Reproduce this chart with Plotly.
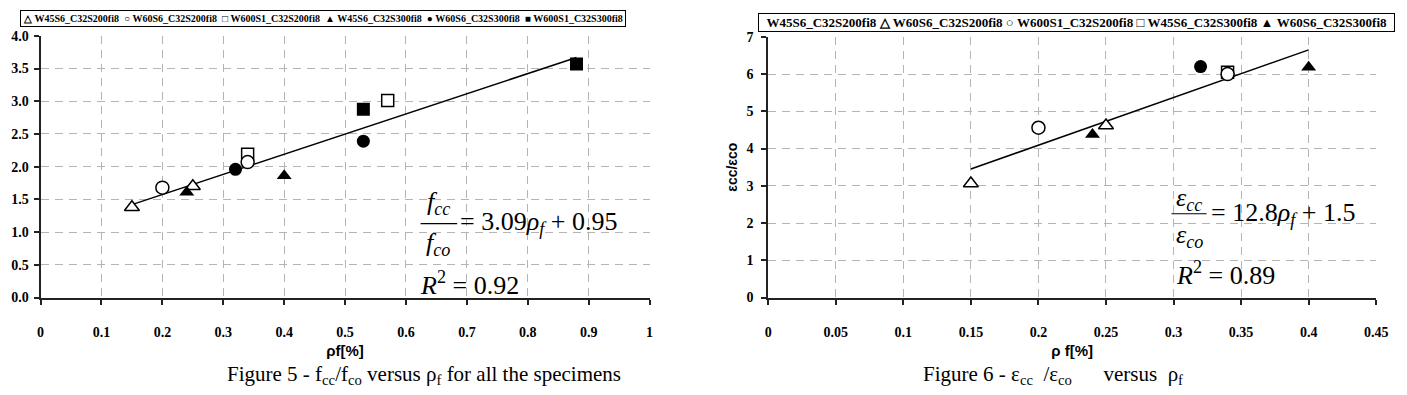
import plotly.graph_objects as go

# ---------------- data ----------------
series_names = ["W45S6_C32S200fi8", "W60S6_C32S200fi8", "W600S1_C32S200fi8",
                "W45S6_C32S300fi8", "W60S6_C32S300fi8", "W600S1_C32S300fi8"]
legend_glyphs = ["△", "○", "□", "▲", "●", "■"]

# Figure 5 : fcc/fco vs rho_f
f5_w45s6_200_x = [0.15, 0.25]
f5_w45s6_200_y = [1.38, 1.70]
f5_w60s6_200_x = [0.20, 0.34]
f5_w60s6_200_y = [1.68, 2.07]
f5_w600s1_200_x = [0.34, 0.57]
f5_w600s1_200_y = [2.19, 3.01]
f5_w45s6_300_x = [0.24, 0.40]
f5_w45s6_300_y = [1.61, 1.86]
f5_w60s6_300_x = [0.32, 0.53]
f5_w60s6_300_y = [1.96, 2.39]
f5_w600s1_300_x = [0.53, 0.88]
f5_w600s1_300_y = [2.88, 3.57]
f5_trend_x = [0.15, 0.88]
f5_trend_y = [1.42, 3.67]

# Figure 6 : ecc/eco vs rho_f
f6_w45s6_200_x = [0.15, 0.25]
f6_w45s6_200_y = [3.06, 4.62]
f6_w60s6_200_x = [0.20, 0.34]
f6_w60s6_200_y = [4.56, 6.00]
f6_w600s1_200_x = [0.34]
f6_w600s1_200_y = [6.05]
f6_w45s6_300_x = [0.24, 0.40]
f6_w45s6_300_y = [4.38, 6.18]
f6_w60s6_300_x = [0.32]
f6_w60s6_300_y = [6.20]
f6_trend_x = [0.15, 0.40]
f6_trend_y = [3.45, 6.65]

f5_xticks = [0, 0.1, 0.2, 0.3, 0.4, 0.5, 0.6, 0.7, 0.8, 0.9, 1]
f5_yticks = [0, 0.5, 1, 1.5, 2, 2.5, 3, 3.5, 4]
f6_xticks = [0, 0.05, 0.1, 0.15, 0.2, 0.25, 0.3, 0.35, 0.4, 0.45]
f6_yticks = [0, 1, 2, 3, 4, 5, 6, 7]

# ---------------- layout helpers ----------------
W, H = 1407, 395
def px(v):
    return v / W
def py(v):
    return 1 - v / H

SERIF = "Liberation Serif, Times New Roman, serif"
SANS = "Liberation Sans, Arial, sans-serif"

open_style = dict(color="white", line=dict(color="black", width=1.5))
fill_style = dict(color="black", line=dict(color="black", width=0))

fig = go.Figure()

def add_pts(x, y, symbol, size, style, xa, ya, name):
    fig.add_trace(go.Scatter(x=x, y=y, mode="markers", name=name, showlegend=False,
                             xaxis=xa, yaxis=ya,
                             marker=dict(symbol=symbol, size=size, **style)))

# Figure 5 traces
fig.add_trace(go.Scatter(x=f5_trend_x, y=f5_trend_y, mode="lines", showlegend=False,
                         line=dict(color="black", width=1.5), xaxis="x", yaxis="y", name="fit"))
add_pts(f5_w45s6_200_x, f5_w45s6_200_y, "triangle-up", 13, open_style, "x", "y", series_names[0])
add_pts(f5_w600s1_200_x, f5_w600s1_200_y, "square", 12, open_style, "x", "y", series_names[2])
add_pts(f5_w60s6_200_x, f5_w60s6_200_y, "circle", 13, open_style, "x", "y", series_names[1])
add_pts(f5_w45s6_300_x, f5_w45s6_300_y, "triangle-up", 13, fill_style, "x", "y", series_names[3])
add_pts(f5_w60s6_300_x, f5_w60s6_300_y, "circle", 13, fill_style, "x", "y", series_names[4])
add_pts(f5_w600s1_300_x, f5_w600s1_300_y, "square", 13, fill_style, "x", "y", series_names[5])

# Figure 6 traces
fig.add_trace(go.Scatter(x=f6_trend_x, y=f6_trend_y, mode="lines", showlegend=False,
                         line=dict(color="black", width=1.5), xaxis="x2", yaxis="y2", name="fit"))
add_pts(f6_w45s6_200_x, f6_w45s6_200_y, "triangle-up", 13, open_style, "x2", "y2", series_names[0])
add_pts(f6_w600s1_200_x, f6_w600s1_200_y, "square", 12, open_style, "x2", "y2", series_names[2])
add_pts(f6_w60s6_200_x, f6_w60s6_200_y, "circle", 13, open_style, "x2", "y2", series_names[1])
add_pts(f6_w45s6_300_x, f6_w45s6_300_y, "triangle-up", 13, fill_style, "x2", "y2", series_names[3])
add_pts(f6_w60s6_300_x, f6_w60s6_300_y, "circle", 13, fill_style, "x2", "y2", series_names[4])

axis_common = dict(showline=True, linecolor="#222", linewidth=2, mirror=False,
                   ticks="outside", ticklen=5, tickwidth=1.5, tickcolor="#222",
                   showgrid=True, gridcolor="#b4b4b4", gridwidth=1, griddash="8px,6px",
                   zeroline=False, tickfont=dict(family=SERIF, size=14, color="black"),
                   tickmode="array")

fig.update_layout(
    width=W, height=H,
    margin=dict(l=0, r=0, t=0, b=0),
    paper_bgcolor="white", plot_bgcolor="white",
    showlegend=False,
    xaxis=dict(domain=[px(37), px(653)], range=[0, 1.0000001], anchor="y",
               tickvals=f5_xticks, ticktext=["<b>%g</b>" % v for v in f5_xticks],
               ticklabelstandoff=16,
               title=dict(text="<b>ρf[%]</b>", font=dict(family=SANS, size=15, color="black"), standoff=6),
               **axis_common),
    yaxis=dict(domain=[py(302), py(30)], range=[0, 4.0000001], anchor="x",
               tickvals=f5_yticks, ticktext=["<b>%.1f</b>" % v for v in f5_yticks],
               ticklabelstandoff=2,
               **axis_common),
    xaxis2=dict(domain=[px(773), px(1388)], range=[0, 0.4500001], anchor="y2",
                tickvals=f6_xticks, ticktext=["<b>%g</b>" % v for v in f6_xticks],
                ticklabelstandoff=16,
                title=dict(text="<b>ρ f[%]</b>", font=dict(family=SANS, size=15, color="black"), standoff=6),
                **axis_common),
    yaxis2=dict(domain=[py(302), py(31)], range=[0, 7.0000001], anchor="x2",
                tickvals=f6_yticks, ticktext=["<b>%g</b>" % v for v in f6_yticks],
                ticklabelstandoff=5,
                title=dict(text="<b>εcc/εco</b>", font=dict(family=SANS, size=14, color="black"), standoff=6),
                **axis_common),
)

NB = "\u00a0"
# legends (boxed text)
left_leg = (NB + " ").join(g + NB + n for g, n in zip(legend_glyphs, series_names))
right_leg = series_names[0] + " " + " ".join(
    g + NB + n for g, n in zip(legend_glyphs[:4], series_names[1:5]))
fig.add_annotation(xref="paper", yref="paper", x=px(16), y=py(3), xanchor="left", yanchor="top",
                   text="<b>" + left_leg + "</b>", showarrow=False, align="center",
                   font=dict(family=SERIF, size=10, color="black"),
                   bordercolor="black", borderwidth=1, borderpad=2, bgcolor="white")
fig.add_annotation(xref="paper", yref="paper", x=px(763), y=py(6), xanchor="left", yanchor="top",
                   text="<b>" + NB * 2 + right_leg + NB * 2 + "</b>", showarrow=False, align="center",
                   font=dict(family=SERIF, size=13, color="black"),
                   bordercolor="black", borderwidth=1, borderpad=1, bgcolor="white")

EQ = dict(family=SERIF, size=26, color="black")
# Figure 5 equation
fig.add_annotation(xref="x", yref="y", x=0.653, y=1.45, text="<i>f</i><sub><i>cc</i></sub>",
                   showarrow=False, font=EQ, xanchor="center", yanchor="middle")
fig.add_annotation(xref="x", yref="y", x=0.653, y=0.82, text="<i>f</i><sub><i>co</i></sub>",
                   showarrow=False, font=EQ, xanchor="center", yanchor="middle")
fig.add_shape(type="line", xref="x", yref="y", x0=0.624, x1=0.684, y0=1.13, y1=1.13,
              line=dict(color="black", width=1.2))
fig.add_annotation(xref="x", yref="y", x=0.686, y=1.14,
                   text="= 3.09<i>ρ</i><sub><i>f</i></sub>" + NB + "+ 0.95",
                   showarrow=False, font=EQ, xanchor="left", yanchor="middle")
fig.add_annotation(xref="x", yref="y", x=0.62, y=0.22, text="<i>R</i><sup>2</sup> = 0.92",
                   showarrow=False, font=EQ, xanchor="left", yanchor="middle")

# Figure 6 equation
fig.add_annotation(xref="x2", yref="y2", x=0.3115, y=2.65, text="<i>ε</i><sub><i>cc</i></sub>",
                   showarrow=False, font=EQ, xanchor="center", yanchor="middle")
fig.add_annotation(xref="x2", yref="y2", x=0.3115, y=1.65, text="<i>ε</i><sub><i>co</i></sub>",
                   showarrow=False, font=EQ, xanchor="center", yanchor="middle")
fig.add_shape(type="line", xref="x2", yref="y2", x0=0.2985, x1=0.3245, y0=2.25, y1=2.25,
              line=dict(color="black", width=1.2))
fig.add_annotation(xref="x2", yref="y2", x=0.3265, y=2.25,
                   text="= 12.8<i>ρ</i><sub><i>f</i></sub>" + NB + "+ 1.5",
                   showarrow=False, font=EQ, xanchor="left", yanchor="middle")
fig.add_annotation(xref="x2", yref="y2", x=0.300, y=0.65, text="<i>R</i><sup>2</sup> = 0.89",
                   showarrow=False, font=EQ, xanchor="left", yanchor="middle")

# captions
CAP = dict(family=SERIF, size=21, color="black")
fig.add_annotation(xref="paper", yref="paper", x=px(425), y=py(367), xanchor="center", yanchor="top",
                   text="Figure 5 - f<sub>cc</sub>/f<sub>co</sub> versus ρ<sub>f</sub> for all the specimens",
                   showarrow=False, font=CAP)
fig.add_annotation(xref="paper", yref="paper", x=px(1061), y=py(367), xanchor="center", yanchor="top",
                   text="Figure 6 - ε<sub>cc</sub>" + NB * 2 + "/ε<sub>co</sub>" + NB * 6 + "versus" + NB * 2 + "ρ<sub>f</sub>",
                   showarrow=False, font=CAP)

fig.write_html("out.html")
